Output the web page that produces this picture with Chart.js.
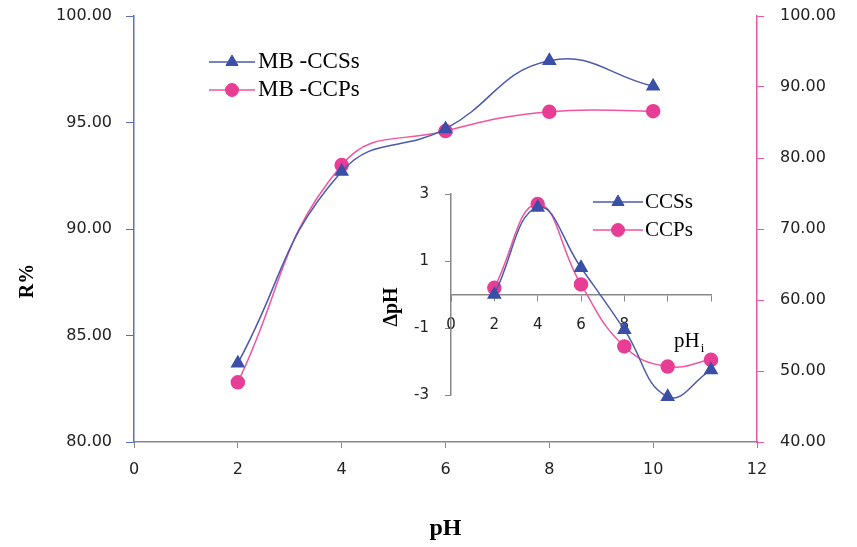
<!DOCTYPE html>
<html>
<head>
<meta charset="utf-8">
<script src="https://cdn.jsdelivr.net/npm/chart.js@4.4.0/dist/chart.umd.min.js"></script>
<style>
  html, body { margin: 0; padding: 0; background: #fff; }
  #wrap { position: relative; width: 857px; height: 547px; }
  #mainChart { position: absolute; left: 0; top: 0; }
  #insetChart { position: absolute; left: 370px; top: 170px; }
</style>
</head>
<body>
<div id="wrap">
  <canvas id="mainChart" width="857" height="547"></canvas>
  <canvas id="insetChart" width="370" height="250"></canvas>
</div>
<script>
// main plot: removal % vs pH
const phValues = [2, 4, 6, 8, 10];
const ccsRemoval = [83.7, 92.7, 94.7, 97.9, 96.7];   // left axis
const ccpRemoval = [48.4, 79.0, 83.8, 86.5, 86.6];   // right axis

// inset: delta pH vs initial pH
const phInitial = [2, 4, 6, 8, 10, 12];
const ccsDeltaPH = [0.0, 2.6, 0.8, -1.05, -3.05, -2.25];
const ccpDeltaPH = [0.2, 2.7, 0.3, -1.55, -2.15, -1.95];

const blueLine = '#4A5AAE';
const blueMark = '#3B4FA6';
const pinkLine = '#F0559F';
const pinkMark = '#E83D95';
const tickFont = { family: 'DejaVu Sans', size: 16 };

const toPts = (xs, ys) => xs.map((x, i) => ({ x: x, y: ys[i] }));

// fixed axis box size, no extra label overflow padding
const fixWidth = w => s => { s.width = w; s.paddingTop = 0; s.paddingBottom = 0; };

// legend drawn inside the plot (line + marker + label)
function innerLegend(id, o) {
  return {
    id: id,
    afterDraw(chart) {
      const ctx = chart.ctx;
      chart.data.datasets.forEach((ds, i) => {
        const y = o.y + i * o.rowH;
        ctx.save();
        ctx.strokeStyle = ds.borderColor;
        ctx.lineWidth = 1.5;
        ctx.beginPath();
        ctx.moveTo(o.x, y);
        ctx.lineTo(o.x + o.lineLen, y);
        ctx.stroke();
        ctx.fillStyle = ds.pointBackgroundColor;
        ctx.strokeStyle = ds.pointBorderColor;
        ctx.lineWidth = 1;
        Chart.helpers.drawPoint(ctx, { pointStyle: ds.pointStyle, radius: ds.pointRadius, borderWidth: 1, rotation: 0 },
          o.x + o.lineLen / 2, y);
        ctx.fillStyle = '#000';
        ctx.font = o.font;
        ctx.textBaseline = 'middle';
        ctx.textAlign = 'left';
        ctx.fillText(ds.label, o.x + o.lineLen + o.gap, y);
        ctx.restore();
      });
    }
  };
}

const mainLabels = {
  id: 'mainLabels',
  afterDraw(chart) {
    const ctx = chart.ctx;
    ctx.save();
    ctx.translate(28, 281);
    ctx.rotate(-Math.PI / 2);
    ctx.font = 'bold 20px "Liberation Serif"';
    ctx.fillStyle = '#000';
    ctx.textAlign = 'center';
    ctx.textBaseline = 'middle';
    ctx.fillText('R%', 0, 0);
    ctx.restore();
  }
};

new Chart(document.getElementById('mainChart'), {
  type: 'line',
  data: {
    datasets: [
      {
        label: 'MB -CCSs', data: toPts(phValues, ccsRemoval), yAxisID: 'y',
        borderColor: blueLine, borderWidth: 1.5, tension: 0.45, clip: false,
        pointStyle: 'triangle', pointRadius: 7,
        pointBackgroundColor: blueMark, pointBorderColor: blueMark
      },
      {
        label: 'MB -CCPs', data: toPts(phValues, ccpRemoval), yAxisID: 'y1',
        borderColor: pinkLine, borderWidth: 1.5, tension: 0.45, clip: false,
        pointStyle: 'circle', pointRadius: 6.5,
        pointBackgroundColor: pinkMark, pointBorderColor: pinkMark
      }
    ]
  },
  options: {
    responsive: false,
    animation: false,
    layout: { padding: { top: 16, right: 0, bottom: 0, left: 0 } },
    plugins: { legend: { display: false }, tooltip: { enabled: false } },
    scales: {
      x: {
        type: 'linear', min: 0, max: 12,
        ticks: { stepSize: 2, font: tickFont, color: '#222', padding: 12, maxRotation: 0 },
        grid: { drawOnChartArea: false, tickLength: 6, tickColor: '#888' },
        border: { color: '#888', width: 1.5 },
        title: { display: true, text: 'pH', color: '#000',
          font: { family: 'Liberation Serif', size: 24, weight: 'bold' }, padding: { top: 0, bottom: 4 } },
        afterFit: s => { s.height = 105; }
      },
      y: {
        position: 'left', min: 80, max: 100,
        ticks: { stepSize: 5, font: tickFont, color: '#222', padding: 14, callback: v => v.toFixed(2) },
        grid: { drawOnChartArea: false, tickLength: 8, tickColor: '#5B6FC2' },
        border: { color: '#5B6FC2', width: 1.5 },
        afterFit: fixWidth(134)
      },
      y1: {
        position: 'right', min: 40, max: 100,
        ticks: { stepSize: 10, font: tickFont, color: '#222', padding: 16, callback: v => v.toFixed(2) },
        grid: { drawOnChartArea: false, tickLength: 7, tickColor: '#F0559F' },
        border: { color: '#F0559F', width: 1.5 },
        afterFit: fixWidth(100)
      }
    }
  },
  plugins: [innerLegend('mainLegend', { x: 209, y: 62, rowH: 28, lineLen: 46, gap: 3, font: '23px "Liberation Serif"' }), mainLabels]
});

const insetLabels = {
  id: 'insetLabels',
  afterDraw(chart) {
    const ctx = chart.ctx;
    ctx.save();
    ctx.fillStyle = '#000';
    ctx.translate(22, 137);
    ctx.rotate(-Math.PI / 2);
    ctx.font = 'bold 20px "Liberation Serif"';
    ctx.textAlign = 'center';
    ctx.textBaseline = 'middle';
    ctx.fillText('ΔpH', 0, 0);
    ctx.restore();
    ctx.save();
    ctx.fillStyle = '#000';
    ctx.font = '21px "Liberation Serif"';
    ctx.textBaseline = 'alphabetic';
    ctx.textAlign = 'left';
    ctx.fillText('pH', 304, 177);
    const w = ctx.measureText('pH').width;
    ctx.font = '13px "Liberation Serif"';
    ctx.fillText('i', 304 + w + 1, 182);
    ctx.restore();
  }
};

new Chart(document.getElementById('insetChart'), {
  type: 'line',
  data: {
    datasets: [
      {
        label: 'CCSs', data: toPts(phInitial, ccsDeltaPH),
        borderColor: blueLine, borderWidth: 1.5, tension: 0.45, clip: false,
        pointStyle: 'triangle', pointRadius: 7,
        pointBackgroundColor: blueMark, pointBorderColor: blueMark
      },
      {
        label: 'CCPs', data: toPts(phInitial, ccpDeltaPH),
        borderColor: pinkLine, borderWidth: 1.5, tension: 0.45, clip: false,
        pointStyle: 'circle', pointRadius: 6.5,
        pointBackgroundColor: pinkMark, pointBorderColor: pinkMark
      }
    ]
  },
  options: {
    responsive: false,
    animation: false,
    layout: { padding: { top: 24, right: 29, bottom: 25, left: 0 } },
    plugins: { legend: { display: false }, tooltip: { enabled: false } },
    scales: {
      x: {
        type: 'linear', position: { y: 0 }, min: 0, max: 12,
        ticks: { stepSize: 2, font: { family: 'DejaVu Sans', size: 15 }, color: '#222', padding: 16, maxRotation: 0,
          callback: v => (v <= 8 ? v : '') },
        grid: { drawOnChartArea: false, tickLength: 6, tickColor: '#888' },
        border: { color: '#888', width: 1.5 }
      },
      y: {
        position: 'left', min: -3, max: 3,
        ticks: { stepSize: 2, font: { family: 'DejaVu Sans', size: 15 }, color: '#222', padding: 16 },
        grid: { drawOnChartArea: false, tickLength: 6, tickColor: '#888' },
        border: { color: '#888', width: 1.5 },
        afterFit: fixWidth(81)
      }
    }
  },
  plugins: [innerLegend('insetLegend', { x: 223, y: 32, rowH: 28, lineLen: 50, gap: 2, font: '21px "Liberation Serif"' }), insetLabels]
});
</script>
</body>
</html>
